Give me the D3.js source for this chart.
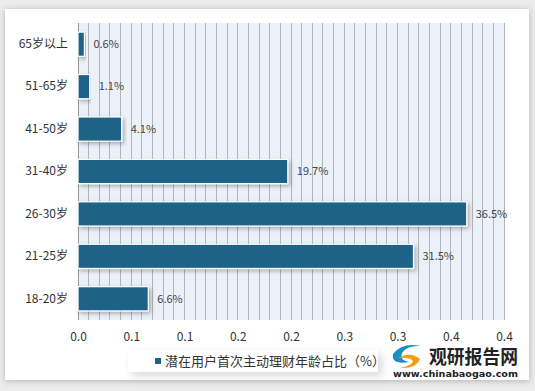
<!DOCTYPE html>
<html><head><meta charset="utf-8">
<script src="https://cdn.jsdelivr.net/npm/d3@7/dist/d3.min.js"></script>
<style>
html,body{margin:0;padding:0;background:#ececec;}
svg{display:block;}
text{font-family:"Noto Sans CJK SC","Noto Sans",sans-serif;}
</style></head>
<body><svg id="c" width="535" height="391"></svg>
<script>
const categories = ["65岁以上","51-65岁","41-50岁","31-40岁","26-30岁","21-25岁","18-20岁"];
const values = [0.006, 0.011, 0.041, 0.197, 0.365, 0.315, 0.066];
const valueLabels = ["0.6%","1.1%","4.1%","19.7%","36.5%","31.5%","6.6%"];
const tickValues = [0,0.05,0.1,0.15,0.2,0.25,0.3,0.35,0.4];
const tickLabels = ["0.0","0.1","0.1","0.2","0.2","0.3","0.3","0.4","0.4"];
const legendLabel = "潜在用户首次主动理财年龄占比（%）";

const svg = d3.select("#c");
const defs = svg.append("defs");
const f1 = defs.append("filter").attr("id","cardShadow").attr("x","-5%").attr("y","-5%").attr("width","110%").attr("height","110%");
f1.append("feDropShadow").attr("dx",0).attr("dy",1).attr("stdDeviation",3).attr("flood-color","#000").attr("flood-opacity",0.25);
const f2 = defs.append("filter").attr("id","barShadow").attr("x","-10%").attr("y","-40%").attr("width","120%").attr("height","200%");
f2.append("feDropShadow").attr("dx",2).attr("dy",2).attr("stdDeviation",2).attr("flood-color","#000").attr("flood-opacity",0.3);
const f3 = defs.append("filter").attr("id","legShadow").attr("x","-10%").attr("y","-40%").attr("width","130%").attr("height","200%");
f3.append("feDropShadow").attr("dx",4).attr("dy",4).attr("stdDeviation",4).attr("flood-color","#000").attr("flood-opacity",0.15);

// card
svg.append("rect").attr("x",5).attr("y",9).attr("width",524).attr("height",371).attr("fill","#fff").attr("filter","url(#cardShadow)");

const m = {left:78, right:504, top:23, bottom:320};
const x = d3.scaleLinear().domain([0,0.4]).range([m.left,m.right]);
const y = d3.scaleBand().domain(categories).range([m.top,m.bottom]).paddingInner(0.43).paddingOuter(0.215);

// plot bg
svg.append("rect").attr("x",m.left).attr("y",m.top).attr("width",m.right-m.left).attr("height",m.bottom-m.top).attr("fill","#EBF1F8");

// minor grid
const grid = d3.range(1,41).map(i=>i*0.01);
svg.append("g").selectAll("line").data(grid).join("line")
  .attr("x1",d=>x(d)).attr("x2",d=>x(d)).attr("y1",m.top).attr("y2",m.bottom)
  .attr("stroke","#b4b4b4").attr("stroke-width",1).attr("shape-rendering","crispEdges");

// left axis line
svg.append("line").attr("x1",m.left).attr("x2",m.left).attr("y1",m.top).attr("y2",m.bottom)
  .attr("stroke","#999").attr("shape-rendering","crispEdges");

// bars
svg.append("g").selectAll("rect").data(categories).join("rect")
  .attr("x",x(0)).attr("y",d=>y(d)).attr("height",y.bandwidth())
  .attr("width",(d,i)=>x(values[i])-x(0))
  .attr("fill","#1B6487").attr("stroke","#fff").attr("stroke-width",1.2)
  .attr("filter","url(#barShadow)");

// value labels
svg.append("g").selectAll("text").data(categories).join("text")
  .attr("x",(d,i)=>x(values[i])+9).attr("y",d=>y(d)+y.bandwidth()/2)
  .attr("dy","0.35em").attr("font-size",11).attr("fill","#444")
  .text((d,i)=>valueLabels[i]);

// y axis labels
const yAxis = d3.axisLeft(y).tickSize(0).tickPadding(10);
const gy = svg.append("g").attr("transform",`translate(${m.left},0)`).call(yAxis);
gy.select(".domain").remove();
gy.selectAll("text").attr("font-size",12).attr("fill","#333").style("font-family","'Noto Sans CJK SC',sans-serif");

// x axis labels
const xAxis = d3.axisBottom(x).tickValues(tickValues).tickSize(0).tickPadding(12).tickFormat((d,i)=>tickLabels[i]);
const gx = svg.append("g").attr("transform",`translate(0,${m.bottom})`).call(xAxis);
gx.select(".domain").remove();
gx.selectAll("text").attr("font-size",12).attr("fill","#333").style("font-family","'Noto Sans CJK SC',sans-serif");

// legend
const lg = svg.append("g");
lg.append("rect").attr("x",128).attr("y",350).attr("width",250).attr("height",22).attr("fill","#fff").attr("filter","url(#legShadow)");
lg.append("rect").attr("x",155).attr("y",358).attr("width",6).attr("height",6).attr("fill","#1B6487");
lg.append("text").attr("x",165).attr("y",361).attr("dy","0.35em").attr("font-size",13).attr("fill","#333").text(legendLabel);

// watermark
const wm = svg.append("g");
wm.append("path").attr("d","M393,354 q9,-12 28,-8 q-14,-1 -19,7 q-3,7 7,9 q-18,3 -16,-8z").attr("fill","#1a8fc4");
wm.append("path").attr("d","M398,358 q12,-7 22,1 q-4,10 -20,9 q13,-3 13,-7 q-3,-4 -15,-3z").attr("fill","#f39c12");
wm.append("text").attr("x",429).attr("y",364).attr("font-size",19).attr("font-weight","bold").attr("fill","#222")
  .attr("textLength",89).attr("lengthAdjust","spacingAndGlyphs").text("观研报告网");
wm.append("text").attr("x",393).attr("y",377).attr("font-size",9.5).attr("font-weight","bold").attr("fill","#222")
  .attr("textLength",125).attr("lengthAdjust","spacingAndGlyphs")
  .style("font-family","'DejaVu Sans',sans-serif").text("www.chinabaogao.com");
</script></body></html>
